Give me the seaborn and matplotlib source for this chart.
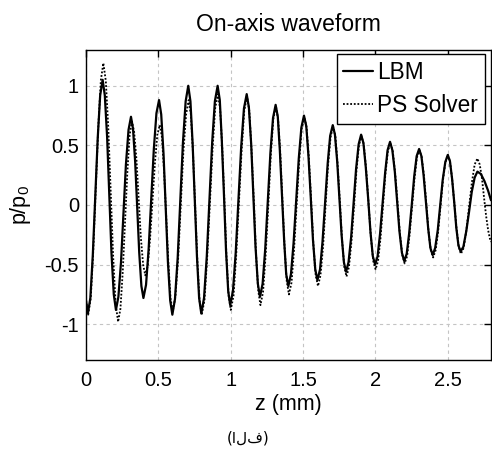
import matplotlib
matplotlib.use("Agg")
import matplotlib.pyplot as plt
import seaborn as sns
import pandas as pd

# ---- data ----
lbm_z = [0.000, 0.013,
         0.030, 0.047, 0.064, 0.081, 0.098, 0.115,
         0.130, 0.146, 0.161, 0.176, 0.192, 0.207,
         0.224, 0.242, 0.259, 0.276, 0.294, 0.311,
         0.325, 0.340, 0.354, 0.368, 0.383, 0.397,
         0.415, 0.433, 0.451, 0.469, 0.487, 0.505,
         0.520, 0.536, 0.551, 0.566, 0.582, 0.597,
         0.615, 0.634, 0.652, 0.670, 0.689, 0.707,
         0.722, 0.737, 0.752, 0.767, 0.782, 0.797,
         0.816, 0.835, 0.854, 0.872, 0.891, 0.910,
         0.925, 0.939, 0.954, 0.968, 0.983, 0.997,
         1.016, 1.035, 1.054, 1.073, 1.092, 1.111,
         1.126, 1.142, 1.157, 1.172, 1.188, 1.203,
         1.221, 1.239, 1.257, 1.275, 1.293, 1.311,
         1.326, 1.340, 1.355, 1.370, 1.384, 1.399,
         1.417, 1.435, 1.453, 1.471, 1.489, 1.507,
         1.523, 1.538, 1.554, 1.569, 1.585, 1.600,
         1.618, 1.635, 1.653, 1.671, 1.688, 1.706,
         1.721, 1.737, 1.752, 1.767, 1.783, 1.798,
         1.815, 1.833, 1.850, 1.867, 1.885, 1.902,
         1.918, 1.934, 1.951, 1.967, 1.983, 1.999,
         2.016, 2.033, 2.051, 2.068, 2.085, 2.102,
         2.118, 2.135, 2.151, 2.167, 2.184, 2.200,
         2.217, 2.234, 2.252, 2.269, 2.286, 2.303,
         2.319, 2.334, 2.350, 2.366, 2.381, 2.397,
         2.414, 2.432, 2.449, 2.466, 2.484, 2.501,
         2.516, 2.531, 2.546, 2.560, 2.575, 2.590,
         2.609, 2.629, 2.648, 2.667, 2.687, 2.706,
         2.730, 2.755, 2.780, 2.800]
lbm_p = [-0.80, -0.91,
         -0.78, -0.42, 0.07, 0.56, 0.92, 1.05,
         0.92, 0.57, 0.09, -0.40, -0.75, -0.88,
         -0.77, -0.48, -0.07, 0.34, 0.63, 0.74,
         0.64, 0.36, -0.02, -0.40, -0.68, -0.78,
         -0.67, -0.37, 0.05, 0.47, 0.77, 0.88,
         0.76, 0.43, -0.02, -0.47, -0.80, -0.92,
         -0.79, -0.44, 0.04, 0.52, 0.87, 1.00,
         0.87, 0.52, 0.05, -0.43, -0.78, -0.91,
         -0.78, -0.43, 0.05, 0.52, 0.87, 1.00,
         0.88, 0.54, 0.08, -0.38, -0.72, -0.84,
         -0.72, -0.40, 0.05, 0.49, 0.81, 0.93,
         0.82, 0.51, 0.08, -0.35, -0.66, -0.77,
         -0.66, -0.37, 0.04, 0.44, 0.73, 0.84,
         0.74, 0.46, 0.08, -0.30, -0.58, -0.68,
         -0.58, -0.32, 0.04, 0.39, 0.65, 0.75,
         0.66, 0.41, 0.06, -0.29, -0.54, -0.63,
         -0.54, -0.31, 0.02, 0.35, 0.58, 0.67,
         0.59, 0.36, 0.06, -0.25, -0.48, -0.56,
         -0.48, -0.27, 0.02, 0.30, 0.51, 0.59,
         0.52, 0.32, 0.05, -0.23, -0.43, -0.50,
         -0.43, -0.24, 0.02, 0.27, 0.46, 0.53,
         0.46, 0.28, 0.03, -0.22, -0.40, -0.47,
         -0.41, -0.24, 0.00, 0.24, 0.41, 0.47,
         0.41, 0.25, 0.03, -0.20, -0.36, -0.42,
         -0.36, -0.21, 0.00, 0.21, 0.36, 0.42,
         0.37, 0.22, 0.02, -0.19, -0.34, -0.39,
         -0.35, -0.22, -0.06, 0.11, 0.23, 0.28,
         0.26, 0.20, 0.12, 0.04]

ps_z = [0.000, 0.015,
        0.033, 0.050, 0.068, 0.085, 0.103, 0.120,
        0.137, 0.154, 0.171, 0.188, 0.205, 0.222,
        0.238, 0.254, 0.270, 0.286, 0.302, 0.318,
        0.333, 0.349, 0.364, 0.379, 0.395, 0.410,
        0.427, 0.443, 0.460, 0.477, 0.493, 0.510,
        0.525, 0.540, 0.555, 0.570, 0.585, 0.600,
        0.618, 0.637, 0.655, 0.673, 0.692, 0.710,
        0.725, 0.740, 0.755, 0.770, 0.785, 0.800,
        0.819, 0.837, 0.856, 0.875, 0.893, 0.912,
        0.927, 0.942, 0.957, 0.971, 0.986, 1.001,
        1.020, 1.038, 1.057, 1.076, 1.094, 1.113,
        1.129, 1.144, 1.160, 1.175, 1.191, 1.206,
        1.224, 1.242, 1.260, 1.277, 1.295, 1.313,
        1.328, 1.343, 1.358, 1.373, 1.388, 1.403,
        1.421, 1.438, 1.456, 1.474, 1.491, 1.509,
        1.525, 1.541, 1.557, 1.572, 1.588, 1.604,
        1.621, 1.639, 1.656, 1.673, 1.691, 1.708,
        1.724, 1.739, 1.755, 1.770, 1.786, 1.801,
        1.818, 1.835, 1.853, 1.870, 1.887, 1.904,
        1.920, 1.937, 1.953, 1.969, 1.986, 2.002,
        2.019, 2.036, 2.053, 2.070, 2.087, 2.104,
        2.121, 2.137, 2.154, 2.170, 2.187, 2.203,
        2.220, 2.237, 2.254, 2.271, 2.288, 2.305,
        2.321, 2.337, 2.353, 2.368, 2.384, 2.400,
        2.417, 2.434, 2.451, 2.468, 2.485, 2.502,
        2.517, 2.532, 2.547, 2.562, 2.577, 2.592,
        2.611, 2.630, 2.649, 2.668, 2.687, 2.706,
        2.722, 2.738, 2.752, 2.766, 2.780, 2.792, 2.800]
ps_p = [-0.80, -0.92,
        -0.78, -0.39, 0.14, 0.66, 1.05, 1.19,
        1.04, 0.65, 0.11, -0.44, -0.83, -0.98,
        -0.87, -0.56, -0.14, 0.28, 0.59, 0.70,
        0.61, 0.38, 0.06, -0.27, -0.50, -0.59,
        -0.51, -0.28, 0.04, 0.36, 0.59, 0.67,
        0.57, 0.28, -0.11, -0.50, -0.79, -0.89,
        -0.77, -0.45, -0.01, 0.44, 0.76, 0.88,
        0.76, 0.43, -0.02, -0.47, -0.80, -0.92,
        -0.80, -0.46, 0.01, 0.47, 0.81, 0.93,
        0.81, 0.48, 0.03, -0.43, -0.76, -0.88,
        -0.76, -0.43, 0.02, 0.46, 0.79, 0.91,
        0.79, 0.47, 0.04, -0.40, -0.72, -0.84,
        -0.73, -0.42, -0.01, 0.41, 0.72, 0.83,
        0.72, 0.44, 0.04, -0.36, -0.64, -0.75,
        -0.65, -0.38, -0.01, 0.37, 0.64, 0.74,
        0.65, 0.39, 0.03, -0.33, -0.59, -0.68,
        -0.59, -0.35, -0.01, 0.33, 0.57, 0.66,
        0.58, 0.35, 0.03, -0.29, -0.52, -0.60,
        -0.52, -0.31, -0.01, 0.29, 0.50, 0.58,
        0.51, 0.30, 0.02, -0.26, -0.47, -0.54,
        -0.47, -0.28, -0.01, 0.26, 0.45, 0.52,
        0.45, 0.27, 0.02, -0.24, -0.42, -0.49,
        -0.43, -0.25, -0.02, 0.22, 0.40, 0.46,
        0.40, 0.24, 0.01, -0.22, -0.38, -0.44,
        -0.38, -0.23, -0.01, 0.21, 0.36, 0.42,
        0.36, 0.21, 0.01, -0.20, -0.35, -0.41,
        -0.36, -0.21, -0.01, 0.19, 0.34, 0.39,
        0.34, 0.22, 0.06, -0.09, -0.21, -0.28, -0.31]

series_names = ["LBM", "PS Solver"]
x_ticks = [0, 0.5, 1, 1.5, 2, 2.5]
x_tick_labels = ["0", "0.5", "1", "1.5", "2", "2.5"]
y_ticks = [-1, -0.5, 0, 0.5, 1]
y_tick_labels = ["-1", "-0.5", "0", "0.5", "1"]
title = "On-axis waveform"
x_label = "z (mm)"
y_label = r"p/p$_0$"
caption = "(الف)"

# ---- style ----
sns.set_style("white")
plt.rcParams["font.family"] = ["Liberation Sans", "DejaVu Sans"]
plt.rcParams["mathtext.fontset"] = "custom"
plt.rcParams["mathtext.rm"] = "Liberation Sans"
plt.rcParams["mathtext.it"] = "Liberation Sans"
plt.rcParams["mathtext.default"] = "regular"
plt.rcParams["axes.unicode_minus"] = False
plt.rcParams["text.color"] = "black"
plt.rcParams["axes.labelcolor"] = "black"
plt.rcParams["xtick.color"] = "black"
plt.rcParams["ytick.color"] = "black"

fig = plt.figure(figsize=(4.92, 4.50), dpi=100)
ax = fig.add_axes([86 / 492, 90 / 450, 405 / 492, 310 / 450])

df_lbm = pd.DataFrame({"z": lbm_z, "p": lbm_p})
df_ps = pd.DataFrame({"z": ps_z, "p": ps_p})

sns.lineplot(data=df_lbm, x="z", y="p", ax=ax, color="black", linewidth=1.6,
             linestyle="-", sort=False, estimator=None, label=series_names[0])
sns.lineplot(data=df_ps, x="z", y="p", ax=ax, color="black", linewidth=1.3,
             linestyle=(0, (1, 1)), sort=False, estimator=None, label=series_names[1])

ax.set_xlim(0, 2.8)
ax.set_ylim(-1.3, 1.3)
ax.set_xticks(x_ticks)
ax.set_xticklabels(x_tick_labels)
ax.set_yticks(y_ticks)
ax.set_yticklabels(y_tick_labels)

ax.grid(True, color="#c4c4c4", linestyle=(0, (3, 3)), linewidth=0.8)
for s in ax.spines.values():
    s.set_visible(True)
    s.set_color("black")
    s.set_linewidth(1.0)
ax.tick_params(direction="in", length=5, width=1.0, top=True, right=True,
               labelsize=14.5, colors="black", pad=8)
ax.tick_params(axis="y", pad=5)

ax.set_title(title, fontsize=16.5, pad=14, color="black")
ax.set_xlabel(x_label, fontsize=15.5, color="black")
ax.set_ylabel(y_label, fontsize=15.5, color="black")
ax.xaxis.set_label_coords(0.5, -0.11)
ax.yaxis.set_label_coords(-0.13, 0.5)

leg = ax.legend(loc="upper right", bbox_to_anchor=(0.985, 0.987), borderaxespad=0,
                fontsize=16.3, frameon=True, fancybox=False, framealpha=1,
                edgecolor="black", handlelength=1.3, handletextpad=0.2,
                borderpad=0.3, labelspacing=0.45)
leg.get_frame().set_linewidth(1.0)
for t in leg.get_texts():
    t.set_color("black")

fig.text(248 / 492, 1 - 438 / 450, caption, ha="center", va="center",
         fontsize=11, family=["DejaVu Sans"], color="black")

fig.savefig("out.png", dpi=100)
